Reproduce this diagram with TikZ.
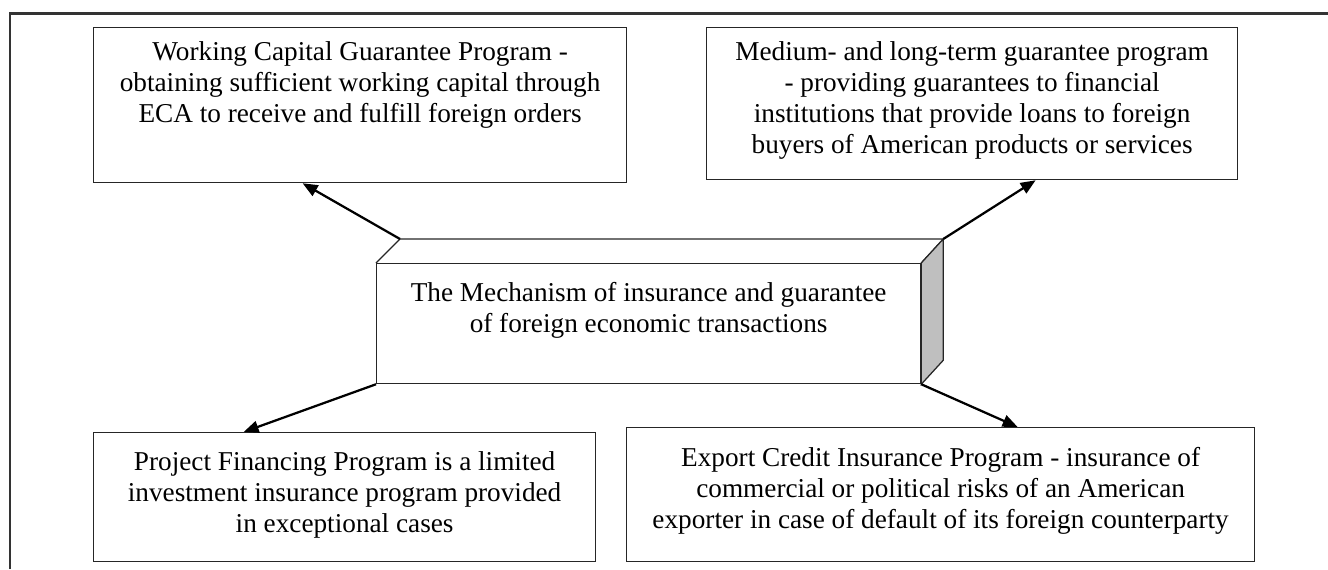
\documentclass[tikz,border=0pt]{standalone}
\usepackage{fontspec}
\setmainfont{Liberation Serif}
\usetikzlibrary{arrows.meta,positioning}

\tikzset{
  progbox/.style={draw=black!85, line width=0.25mm, anchor=north west, inner sep=0pt},
  progtext/.style={align=center, inner sep=0pt, font=\fontsize{15.5}{17.6}\selectfont},
  link/.style={line width=0.45mm, -{Triangle[length=3mm,width=2.4mm]}},
}

\begin{document}
\begin{tikzpicture}[x=0.2mm, y=-0.2mm]
\useasboundingbox (0,0) rectangle (1328,569);
\draw [black!80, line width=0.55mm] (10,569) -- (10,13.5) -- (1328,13.5);
% program boxes
\node [progbox, minimum width=106.6mm, minimum height=31mm] (wcg) at (93,27) {};
\node [progbox, minimum width=106.2mm, minimum height=30.4mm] (mlt) at (706,27) {};
\node [progbox, minimum width=100.4mm, minimum height=25.8mm] (pfp) at (93,432) {};
\node [progbox, minimum width=125.6mm, minimum height=26.8mm] (eci) at (626,427) {};
\node [progtext, below=2.8mm of wcg.north] (wcgtext) {Working Capital Guarantee Program -\\obtaining sufficient working capital through\\ECA to receive and fulfill foreign orders};
\node [progtext, below=2.8mm of mlt.north] (mlttext) {Medium- and long-term guarantee program\\- providing guarantees to financial\\institutions that provide loans to foreign\\buyers of American products or services};
\node [progtext, below=3.8mm of pfp.north] (pfptext) {Project Financing Program is a limited\\investment insurance program provided\\in exceptional cases};
\node [progtext, below=4mm of eci.north] (ecitext) {Export Credit Insurance Program - insurance of\\commercial or political risks of an American\\exporter in case of default of its foreign counterparty};
% the mechanism block
\node [progbox, minimum width=108.8mm, minimum height=24mm] (mech) at (376,263) {};
\coordinate (mechbl) at ([shift={(24,-24)}]mech.north west);
\coordinate (mechbr) at ([shift={(22,-24)}]mech.north east);
\coordinate (mechbs) at ([shift={(22,-24)}]mech.south east);
\draw [black!85, line width=0.25mm] (mech.north west) -- (mechbl) -- (mechbr) -- (mech.north east);
\filldraw [fill=black!25, draw=black!85, line width=0.25mm] (mech.north east) -- (mechbr) -- (mechbs) -- (mech.south east) -- cycle;
\node [progtext, below=3.8mm of mech.north] (mechtext) {The Mechanism of insurance and guarantee\\of foreign economic transactions};
\draw [link] (mechbl) -- ([xshift=-11.5mm]wcg.south);
\draw [link] (mechbr) -- ([xshift=12.7mm]mlt.south);
\draw [link] (mech.south west) -- ([xshift=-20.2mm]pfp.north);
\draw [link] (mech.south east) -- ([xshift=15.4mm]eci.north);
\end{tikzpicture}
\end{document}
